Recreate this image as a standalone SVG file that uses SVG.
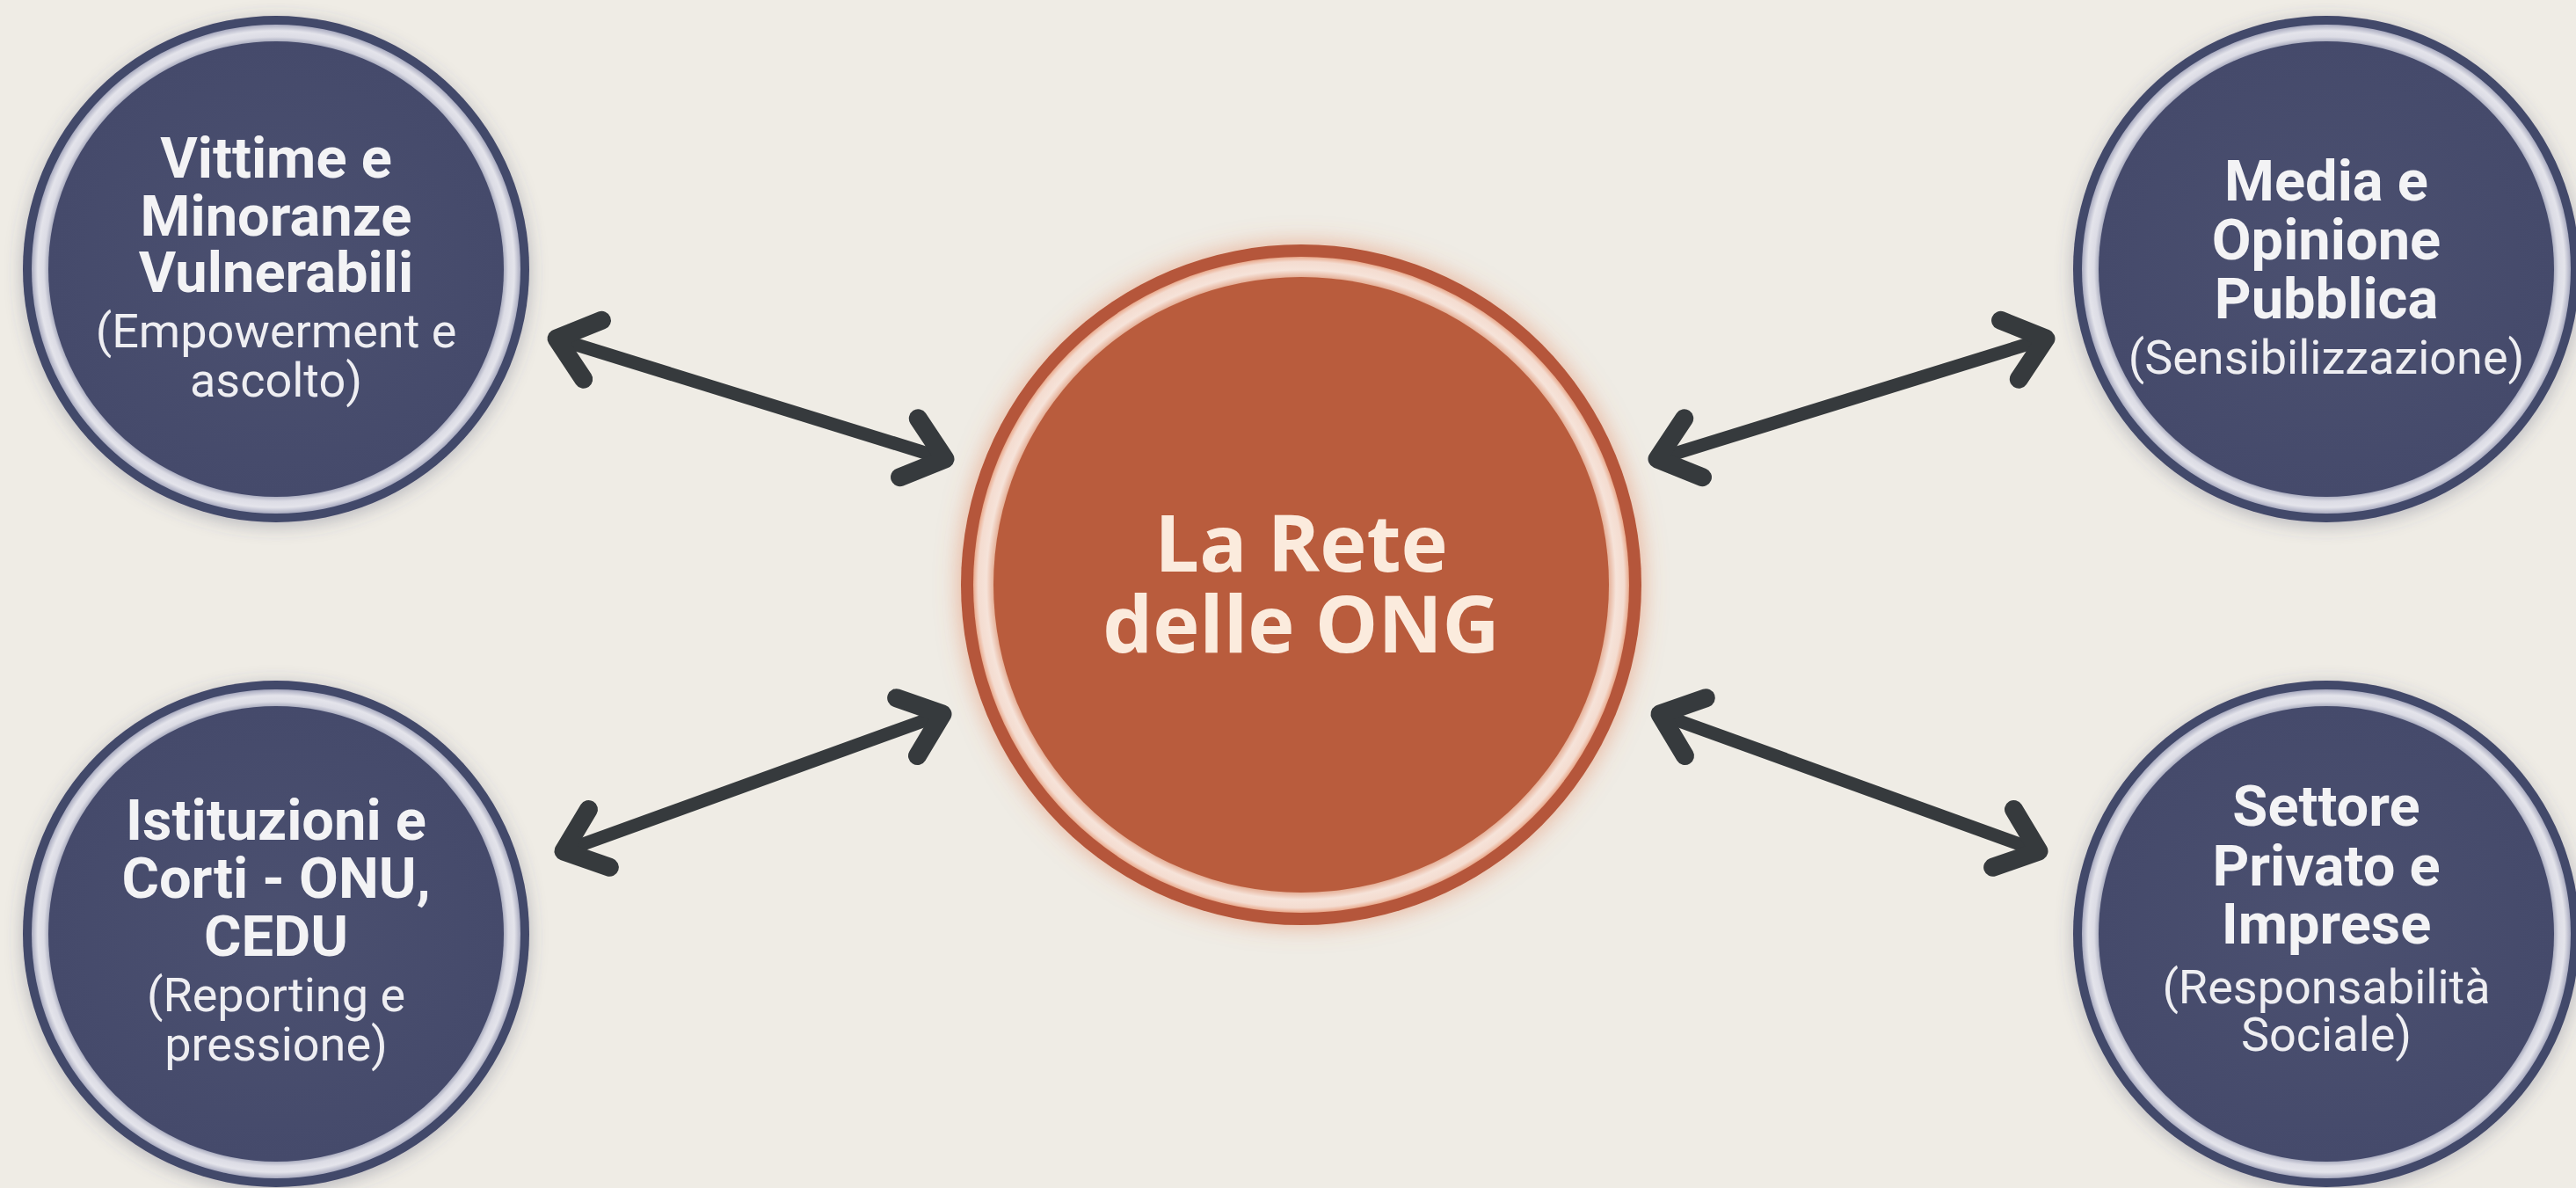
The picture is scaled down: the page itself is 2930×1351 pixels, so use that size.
<svg xmlns="http://www.w3.org/2000/svg" width="2930" height="1351" viewBox="0 0 2930 1351">
<defs>
<style>
.bold{font-family:Roboto,"Liberation Sans",Arial,sans-serif;font-weight:700;font-size:65px;fill:#F3F3F5;text-anchor:middle}
.sub{font-family:Roboto,"Liberation Sans",Arial,sans-serif;font-weight:400;font-size:54px;fill:#EEEEF2;text-anchor:middle}
.center{font-family:"Open Sans","Liberation Sans",Arial,sans-serif;font-weight:700;font-size:90px;fill:#FBEBDD;text-anchor:middle}
.ring{fill:#43486A}
.shaft{fill:none;stroke:#363A3D;stroke-width:15;marker-start:url(#chev);marker-end:url(#chev)}
</style>
<filter id="shadow" x="-20%" y="-20%" width="140%" height="140%">
<feDropShadow dx="0" dy="4" stdDeviation="10" flood-color="#4A4F6E" flood-opacity="0.35"/>
</filter>
<filter id="glow" x="-20%" y="-20%" width="140%" height="140%">
<feDropShadow dx="0" dy="0" stdDeviation="14" flood-color="#E2784C" flood-opacity="0.55"/>
</filter>
<radialGradient id="band" cx="0.5" cy="0.5" r="0.5">
<stop offset="0.92" stop-color="#8E92AA"/>
<stop offset="0.95" stop-color="#DCDCE5"/>
<stop offset="0.975" stop-color="#E4E4EB"/>
<stop offset="1" stop-color="#A9ABC0"/>
</radialGradient>
<radialGradient id="oband" cx="0.5" cy="0.5" r="0.5">
<stop offset="0.935" stop-color="#E3A98F"/>
<stop offset="0.96" stop-color="#F6E3D9"/>
<stop offset="0.985" stop-color="#F4DCD0"/>
<stop offset="1" stop-color="#E9A98C"/>
</radialGradient>
<radialGradient id="navy" cx="0.5" cy="0.5" r="0.5">
<stop offset="0" stop-color="#4B5070"/>
<stop offset="1" stop-color="#454A6B"/>
</radialGradient>
<marker id="chev" markerUnits="userSpaceOnUse" orient="auto-start-reverse" overflow="visible" refX="0" refY="0" markerWidth="1" markerHeight="1">
<path d="M -43 -35 L 0 0 L -43 35" fill="none" stroke="#363A3D" stroke-width="21" stroke-linecap="round" stroke-linejoin="round"/>
</marker>
</defs>
<rect x="0" y="0" width="2930" height="1351" fill="#EFECE5"/>

<g id="connectors">
<path class="shaft" d="M 633 385 L 1075 522"/>
<path class="shaft" d="M 2327 385 L 1885 522"/>
<path class="shaft" d="M 641 968 L 1072 812"/>
<path class="shaft" d="M 2319 968 L 1888 812"/>
</g>

<g id="center-node">
<circle cx="1480" cy="665" r="387" fill="#B5573A" filter="url(#glow)"/>
<circle cx="1480" cy="665" r="373" fill="url(#oband)"/>
<circle cx="1480" cy="665" r="350" fill="#B95C3D"/>
<text class="center" x="1480" y="650">La Rete</text>
<text class="center" x="1480" y="742">delle ONG</text>
</g>

<g id="node-vittime">
<circle cx="314" cy="306" r="288" class="ring" filter="url(#shadow)"/>
<circle cx="314" cy="306" r="278" fill="url(#band)"/>
<circle cx="314" cy="306" r="259" fill="url(#navy)"/>
<text class="bold" x="314" y="202">Vittime e</text>
<text class="bold" x="314" y="268">Minoranze</text>
<text class="bold" x="314" y="332">Vulnerabili</text>
<text class="sub" x="314" y="395">(Empowerment e</text>
<text class="sub" x="314" y="451">ascolto)</text>
</g>

<g id="node-media">
<circle cx="2646" cy="306" r="288" class="ring" filter="url(#shadow)"/>
<circle cx="2646" cy="306" r="278" fill="url(#band)"/>
<circle cx="2646" cy="306" r="259" fill="url(#navy)"/>
<text class="bold" x="2646" y="228">Media e</text>
<text class="bold" x="2646" y="295">Opinione</text>
<text class="bold" x="2646" y="362">Pubblica</text>
<text class="sub" x="2646" y="425">(Sensibilizzazione)</text>
</g>

<g id="node-istituzioni">
<circle cx="314" cy="1062" r="288" class="ring" filter="url(#shadow)"/>
<circle cx="314" cy="1062" r="278" fill="url(#band)"/>
<circle cx="314" cy="1062" r="259" fill="url(#navy)"/>
<text class="bold" x="314" y="955">Istituzioni e</text>
<text class="bold" x="314" y="1021">Corti - ONU,</text>
<text class="bold" x="314" y="1087">CEDU</text>
<text class="sub" x="314" y="1150">(Reporting e</text>
<text class="sub" x="314" y="1206">pressione)</text>
</g>

<g id="node-settore">
<circle cx="2646" cy="1062" r="288" class="ring" filter="url(#shadow)"/>
<circle cx="2646" cy="1062" r="278" fill="url(#band)"/>
<circle cx="2646" cy="1062" r="259" fill="url(#navy)"/>
<text class="bold" x="2646" y="939">Settore</text>
<text class="bold" x="2646" y="1007">Privato e</text>
<text class="bold" x="2646" y="1073">Imprese</text>
<text class="sub" x="2646" y="1141">(Responsabilità</text>
<text class="sub" x="2646" y="1195">Sociale)</text>
</g>
</svg>
